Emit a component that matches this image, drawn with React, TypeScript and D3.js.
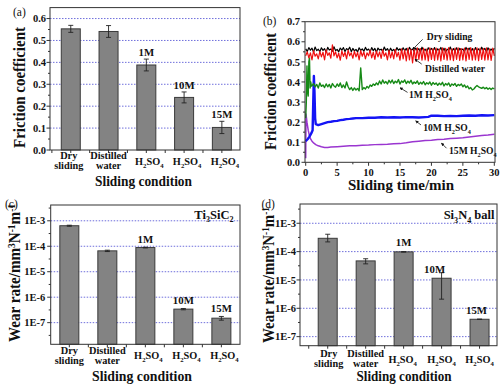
import React from "react";
import * as d3 from "d3";

const FONT = "'Liberation Serif','Times New Roman',Times,serif";

// ---------------- data ----------------
const conditionLines = [["Dry", "sliding"], ["Distilled", "water"], ["H2SO4"], ["H2SO4"], ["H2SO4"]];
const concentrationLabels = ["", "", "1M", "10M", "15M"];

const frictionMean = [0.553, 0.541, 0.388, 0.24, 0.103];
const frictionErr = [0.016, 0.027, 0.027, 0.025, 0.028];
const frictionTicks = [0, 0.1, 0.2, 0.3, 0.4, 0.5, 0.6];
const frictionMinor = [0.05, 0.15, 0.25, 0.35, 0.45, 0.55, 0.65];

const discWear = [6.4e-4, 6.6e-5, 8.9e-5, 3.4e-7, 1.5e-7];
const discWearLow = [6.1e-4, 6.2e-5, 8.6e-5, 3.2e-7, 1.25e-7];
const discWearHigh = [6.7e-4, 7.0e-5, 9.2e-5, 3.6e-7, 1.75e-7];
const ballWear = [2.95e-4, 4.7e-5, 9.8e-5, 1.15e-5, 4.1e-7];
const ballWearLow = [2.2e-4, 3.7e-5, 9.6e-5, 2.1e-6, 4.05e-7];
const ballWearHigh = [4.1e-4, 5.6e-5, 1.0e-4, 1.8e-5, 4.15e-7];
const wearTicks = [1e-7, 1e-6, 1e-5, 1e-4, 1e-3];
const wearTickLabels = ["1E-7", "1E-6", "1E-5", "1E-4", "1E-3"];
const wearMinor = [3.16e-8, 3.16e-7, 3.16e-6, 3.16e-5, 3.16e-4, 3.16e-3];

const timeTicks = [0, 5, 10, 15, 20, 25, 30];
const timeMinor = [2.5, 7.5, 12.5, 17.5, 22.5, 27.5];
const timeFrictionTicks = [0, 0.1, 0.2, 0.3, 0.4, 0.5, 0.6, 0.7];
const timeFrictionMinor = [0.05, 0.15, 0.25, 0.35, 0.45, 0.55, 0.65];

// friction vs time, sampled every 0.25 min from 0 to 30
const drySliding = [
  0.565, 0.552, 0.571, 0.558, 0.568, 0.549, 0.574, 0.556, 0.563, 0.551,
  0.57, 0.557, 0.566, 0.548, 0.572, 0.559, 0.564, 0.553, 0.575, 0.556,
  0.562, 0.55, 0.569, 0.558, 0.571, 0.552, 0.566, 0.56, 0.573, 0.551,
  0.567, 0.555, 0.562, 0.549, 0.57, 0.557, 0.565, 0.553, 0.572, 0.558,
  0.564, 0.55, 0.571, 0.556, 0.567, 0.548, 0.569, 0.559, 0.563, 0.552,
  0.574, 0.557, 0.566, 0.551, 0.568, 0.555, 0.562, 0.549, 0.571, 0.558,
  0.565, 0.553, 0.57, 0.556, 0.567, 0.55, 0.572, 0.559, 0.564, 0.552,
  0.569, 0.557, 0.566, 0.548, 0.573, 0.556, 0.563, 0.551, 0.57, 0.558,
  0.567, 0.554, 0.571, 0.55, 0.565, 0.557, 0.572, 0.553, 0.568, 0.549,
  0.563, 0.558, 0.574, 0.552, 0.566, 0.556, 0.57, 0.55, 0.567, 0.559,
  0.564, 0.551, 0.572, 0.557, 0.569, 0.553, 0.566, 0.549, 0.571, 0.556,
  0.565, 0.552, 0.573, 0.558, 0.567, 0.55, 0.57, 0.555, 0.564, 0.553,
  0.568,
];
const distilledWater = [
  0.53, 0.55, 0.52, 0.545, 0.51, 0.556, 0.528, 0.54, 0.515, 0.552,
  0.525, 0.548, 0.51, 0.56, 0.532, 0.545, 0.518, 0.585, 0.53, 0.55,
  0.52, 0.543, 0.508, 0.555, 0.527, 0.548, 0.515, 0.558, 0.53, 0.545,
  0.518, 0.553, 0.525, 0.547, 0.51, 0.556, 0.528, 0.55, 0.515, 0.545,
  0.53, 0.558, 0.52, 0.548, 0.512, 0.555, 0.525, 0.55, 0.517, 0.56,
  0.528, 0.545, 0.51, 0.557, 0.52, 0.55, 0.515, 0.562, 0.525, 0.548,
  0.508, 0.565, 0.515, 0.56, 0.505, 0.568, 0.51, 0.562, 0.495, 0.565,
  0.505, 0.57, 0.512, 0.566, 0.508, 0.568, 0.51, 0.563, 0.505, 0.57,
  0.512, 0.566, 0.507, 0.569, 0.51, 0.564, 0.505, 0.57, 0.512, 0.567,
  0.508, 0.571, 0.51, 0.565, 0.506, 0.568, 0.512, 0.57, 0.507, 0.566,
  0.51, 0.569, 0.505, 0.567, 0.512, 0.571, 0.508, 0.565, 0.51, 0.57,
  0.506, 0.568, 0.512, 0.566, 0.508, 0.57, 0.51, 0.565, 0.507, 0.568,
  0.53,
];
// 1M H2SO4: start-up transient, then every 0.25 min from 1 to 30
const acid1MStart: [number, number][] = [
  [0, 0.22], [0.1, 0.3], [0.2, 0.48], [0.3, 0.35], [0.4, 0.33], [0.5, 0.5],
  [0.6, 0.52], [0.7, 0.37], [0.8, 0.4], [0.9, 0.38],
];
const acid1M = [
  0.38, 0.392, 0.375, 0.388, 0.37, 0.395, 0.378, 0.385, 0.372, 0.39,
  0.376, 0.388, 0.37, 0.392, 0.38, 0.374, 0.39, 0.378, 0.395, 0.372,
  0.385, 0.37, 0.4, 0.376, 0.362, 0.372, 0.358, 0.37, 0.36, 0.368,
  0.356, 0.47, 0.362, 0.372, 0.365, 0.378, 0.37, 0.385, 0.378, 0.39,
  0.383, 0.395, 0.386, 0.405, 0.39, 0.41, 0.394, 0.402, 0.39, 0.408,
  0.395, 0.41, 0.392, 0.404, 0.396, 0.412, 0.39, 0.405, 0.398, 0.41,
  0.392, 0.404, 0.395, 0.408, 0.39, 0.4, 0.393, 0.405, 0.388, 0.398,
  0.39, 0.402, 0.386, 0.396, 0.39, 0.4, 0.384, 0.397, 0.388, 0.395,
  0.383, 0.394, 0.386, 0.398, 0.38, 0.392, 0.385, 0.395, 0.378, 0.39,
  0.384, 0.392, 0.378, 0.388, 0.382, 0.39, 0.376, 0.385, 0.372, 0.38,
  0.366, 0.372, 0.36, 0.365, 0.375, 0.382, 0.376, 0.372, 0.368, 0.374,
  0.366, 0.372, 0.364, 0.37, 0.362, 0.37, 0.365,
];
const acid10M: [number, number][] = [
  [0, 0.105], [0.3, 0.115], [0.6, 0.128], [0.9, 0.145], [1.1, 0.16], [1.2, 0.3],
  [1.3, 0.43], [1.4, 0.35], [1.5, 0.22], [1.6, 0.19], [2, 0.185], [2.5, 0.19],
  [3, 0.195], [3.5, 0.2], [4, 0.202], [4.5, 0.205], [5, 0.206], [5.5, 0.21],
  [6, 0.212], [6.5, 0.215], [7, 0.216], [7.5, 0.218], [8, 0.22], [9, 0.22],
  [10, 0.222], [11, 0.222], [12, 0.224], [13, 0.223], [14, 0.224], [15, 0.223],
  [16, 0.225], [17, 0.224], [18, 0.223], [19, 0.225], [19.5, 0.226], [20, 0.232],
  [21, 0.232], [22, 0.23], [23, 0.231], [24, 0.23], [25, 0.232], [26, 0.233],
  [27, 0.232], [28, 0.234], [29, 0.233], [30, 0.235],
];
const acid15M: [number, number][] = [
  [0, 0.02], [0.05, 0.24], [0.2, 0.2], [0.4, 0.16], [0.6, 0.13], [0.8, 0.115],
  [1, 0.105], [1.3, 0.095], [1.6, 0.088], [2, 0.082], [2.5, 0.077], [3, 0.074],
  [3.5, 0.074], [4, 0.076], [5, 0.078], [6, 0.08], [7, 0.082], [8, 0.083],
  [9, 0.085], [10, 0.086], [11, 0.088], [12, 0.089], [13, 0.09], [14, 0.092],
  [15, 0.093], [16, 0.097], [17, 0.102], [18, 0.105], [19, 0.108], [20, 0.11],
  [21, 0.113], [22, 0.115], [23, 0.118], [24, 0.12], [25, 0.122], [26, 0.126],
  [27, 0.13], [28, 0.133], [29, 0.136], [30, 0.14],
];
const curveNotes = [
  { label: "Dry sliding", at: [19.25, 0.609], from: [18.6, 0.612], to: [17.0, 0.562] },
  { label: "Distilled water", at: [18.98, 0.449], from: [18.45, 0.489], to: [17.4, 0.513] },
  { label: "1M H2SO4", at: [16.43, 0.32], from: [16.2, 0.348], to: [15.0, 0.371] },
  { label: "10M H2SO4", at: [18.7, 0.156], from: [18.34, 0.186], to: [17.5, 0.206] },
  { label: "15M H2SO4", at: [22.8, 0.039], from: [22.4, 0.07], to: [21.6, 0.095] },
];

// ---------------- helpers ----------------
const sampled = (vals: number[], t0: number, step: number): [number, number][] =>
  vals.map((v, i) => [t0 + i * step, v]);

function formulaSpans(s: string, fs: number) {
  const parts: { t: string; sub: boolean }[] = [];
  for (let i = 0; i < s.length; i++) {
    const ch = s[i];
    const isDigit = /[0-9]/.test(ch);
    const prev = i > 0 ? s[i - 1] : "";
    const prevSub = parts.length > 0 && parts[parts.length - 1].sub;
    const sub = isDigit && (/[A-Za-z]/.test(prev) || (prevSub && /[0-9]/.test(prev)));
    if (parts.length && parts[parts.length - 1].sub === sub) parts[parts.length - 1].t += ch;
    else parts.push({ t: ch, sub });
  }
  let cur = 0;
  return parts.map((p, k) => {
    const target = p.sub ? fs * 0.3 : 0;
    const dy = target - cur;
    cur = target;
    return (
      <tspan key={k} dy={dy} fontSize={p.sub ? fs * 0.65 : fs}>
        {p.t}
      </tspan>
    );
  });
}

const GRID = "#6f6fdc";
const AXIS = "#333";

function WearTitle() {
  return (
    <>
      <tspan>Wear rate/mm</tspan>
      <tspan dy={-5} fontSize={10}>3</tspan>
      <tspan dy={5}>N</tspan>
      <tspan dy={-5} fontSize={10}>-1</tspan>
      <tspan dy={5}>m</tspan>
      <tspan dy={-5} fontSize={10}>-1</tspan>
    </>
  );
}

type Box = { l: number; r: number; t: number; b: number };

function BarPanel(props: {
  box: Box;
  xDomain: [number, number];
  y: any;
  mean: number[];
  low: number[];
  high: number[];
  yTicks: number[];
  yTickLabels: string[];
  yMinor: number[];
  tickGap: number;
  catY: [number, number, number];
  catNudge: number[];
  annFromMean: boolean;
  annGap: number;
  annNudge: number[];
  letter: string;
  letterXY: [number, number];
  note?: string;
  noteXY?: [number, number];
  yTitle: React.ReactNode;
  yTitleXY: [number, number];
  yTitleLen: number;
  xTitleXY: [number, number];
  xTitleLen: number;
}) {
  const { box, y } = props;
  const x = d3.scaleLinear().domain(props.xDomain).range([box.l, box.r]);
  const bw = 19;
  const catTicks = d3.range(-0.5, 4.51, 0.5).filter((v) => v >= props.xDomain[0] && v <= props.xDomain[1]);
  return (
    <g fontFamily={FONT} fontWeight="bold" fill="#111">
      {props.yTicks.map((v, i) =>
        i === 0 && y(v) >= box.b - 0.5 ? null : (
          <line key={"g" + i} x1={box.l} x2={box.r} y1={y(v)} y2={y(v)} stroke={GRID} strokeWidth={1} strokeDasharray="1.5 1.5" />
        )
      )}
      {props.mean.map((m, i) => (
        <rect key={"b" + i} x={x(i) - bw / 2} y={y(m)} width={bw} height={box.b - y(m)} fill="#838383" stroke="#3a3a3a" strokeWidth={1} />
      ))}
      {props.mean.map((m, i) => {
        const yh = y(props.high[i]);
        const yl = y(props.low[i]);
        return (
          <g key={"e" + i} stroke="#222" strokeWidth={0.9}>
            <line x1={x(i)} x2={x(i)} y1={yh} y2={yl} />
            <line x1={x(i) - 2.5} x2={x(i) + 2.5} y1={yh} y2={yh} />
            <line x1={x(i) - 2.5} x2={x(i) + 2.5} y1={yl} y2={yl} />
          </g>
        );
      })}
      <rect x={box.l} y={box.t} width={box.r - box.l} height={box.b - box.t} fill="none" stroke={AXIS} strokeWidth={1} />
      {props.yTicks.map((v, i) => (
        <g key={"yt" + i}>
          <line x1={box.l - 3.5} x2={box.l} y1={y(v)} y2={y(v)} stroke={AXIS} />
          <text x={box.l - props.tickGap} y={y(v)} dy="0.35em" textAnchor="end" fontSize={10.5} fontWeight="bold">
            {props.yTickLabels[i]}
          </text>
        </g>
      ))}
      {props.yMinor.map((v, i) =>
        y(v) > box.t && y(v) < box.b ? (
          <line key={"ym" + i} x1={box.l - 2} x2={box.l} y1={y(v)} y2={y(v)} stroke={AXIS} />
        ) : null
      )}
      {catTicks.map((v, i) => (
        <line key={"xt" + i} x1={x(v)} x2={x(v)} y1={box.b} y2={box.b + 3} stroke={AXIS} />
      ))}
      {conditionLines.map((lines, i) => {
        const cx = x(i) + props.catNudge[i];
        if (lines.length === 2)
          return (
            <g key={"c" + i}>
              <text x={cx} y={props.catY[0]} textAnchor="middle" fontSize={10.3}>{lines[0]}</text>
              <text x={cx} y={props.catY[1]} textAnchor="middle" fontSize={10.3}>{lines[1]}</text>
            </g>
          );
        return (
          <text key={"c" + i} x={cx} y={props.catY[2]} textAnchor="middle" fontSize={10.3}>
            {formulaSpans(lines[0], 10.3)}
          </text>
        );
      })}
      {concentrationLabels.map((lab, i) => {
        if (!lab) return null;
        const base = props.annFromMean ? y(props.mean[i]) : y(props.high[i]);
        return (
          <text key={"a" + i} x={x(i) + props.annNudge[i]} y={base - props.annGap} textAnchor="middle" fontSize={10.8}>
            {lab}
          </text>
        );
      })}
      <text x={props.letterXY[0]} y={props.letterXY[1]} fontWeight="normal" fontSize={11.5}>
        {props.letter}
      </text>
      {props.note && props.noteXY ? (
        <text x={props.noteXY[0]} y={props.noteXY[1]} textAnchor="end" fontSize={12.5}>
          {formulaSpans(props.note, 12.5)}
        </text>
      ) : null}
      <text
        transform={`translate(${props.yTitleXY[0]},${props.yTitleXY[1]}) rotate(-90)`}
        textAnchor="middle"
        fontSize={16}
        textLength={props.yTitleLen}
        lengthAdjust="spacingAndGlyphs"
      >
        {props.yTitle}
      </text>
      <text x={props.xTitleXY[0]} y={props.xTitleXY[1]} textAnchor="middle" fontSize={14.5} textLength={props.xTitleLen} lengthAdjust="spacingAndGlyphs">
        Sliding condition
      </text>
    </g>
  );
}

function TimePanel() {
  const box: Box = { l: 305, r: 495, t: 21.7, b: 162.3 };
  const x = d3.scaleLinear().domain([0, 30]).range([305.7, 494.3]);
  const y = d3.scaleLinear().domain([0, 0.7]).range([162.3, 21.7]);
  const line = d3
    .line<[number, number]>()
    .x((d) => x(d[0]))
    .y((d) => y(d[1]));
  const series: { pts: [number, number][]; color: string; w: number }[] = [
    { pts: acid15M, color: "#9a35d0", w: 1.5 },
    { pts: acid10M, color: "#1414f5", w: 2.4 },
    { pts: [...acid1MStart, ...sampled(acid1M, 1, 0.25)], color: "#168a16", w: 1.4 },
    { pts: sampled(drySliding, 0, 0.25), color: "#000", w: 1.2 },
    { pts: sampled(distilledWater, 0, 0.25), color: "#f01010", w: 1.2 },
  ];
  return (
    <g fontFamily={FONT} fontWeight="bold" fill="#111">
      <defs>
        <clipPath id="clipB">
          <rect x={box.l} y={box.t} width={box.r - box.l} height={box.b - box.t} />
        </clipPath>
        <marker id="arr" viewBox="0 0 6 6" refX="5" refY="3" markerWidth="4" markerHeight="4" orient="auto">
          <path d="M0,0 L6,3 L0,6 z" fill="#111" />
        </marker>
      </defs>
      <g clipPath="url(#clipB)">
        {series.map((s, i) => (
          <path key={i} d={line(s.pts) || ""} fill="none" stroke={s.color} strokeWidth={s.w} strokeLinejoin="round" />
        ))}
      </g>
      <rect x={box.l} y={box.t} width={box.r - box.l} height={box.b - box.t} fill="none" stroke={AXIS} strokeWidth={1} />
      {timeTicks.map((v, i) => (
        <g key={"xt" + i}>
          <line x1={x(v)} x2={x(v)} y1={box.b} y2={box.b + 3.5} stroke={AXIS} />
          <text x={x(v)} y={175.5} textAnchor="middle" fontSize={10.5}>{v}</text>
        </g>
      ))}
      {timeMinor.map((v, i) => (
        <line key={"xm" + i} x1={x(v)} x2={x(v)} y1={box.b} y2={box.b + 2} stroke={AXIS} />
      ))}
      {timeFrictionTicks.map((v, i) => (
        <g key={"yt" + i}>
          <line x1={box.l - 3.5} x2={box.l} y1={y(v)} y2={y(v)} stroke={AXIS} />
          <text x={box.l - 5} y={y(v)} dy="0.35em" textAnchor="end" fontSize={10.5}>{d3.format(".1f")(v)}</text>
        </g>
      ))}
      {timeFrictionMinor.map((v, i) => (
        <line key={"ym" + i} x1={box.l - 2} x2={box.l} y1={y(v)} y2={y(v)} stroke={AXIS} />
      ))}
      {curveNotes.map((n, i) => (
        <g key={"n" + i}>
          <line x1={x(n.from[0])} y1={y(n.from[1])} x2={x(n.to[0])} y2={y(n.to[1])} stroke="#111" strokeWidth={0.8} markerEnd="url(#arr)" />
          <text x={x(n.at[0])} y={y(n.at[1])} fontSize={9.6}>{formulaSpans(n.label, 9.6)}</text>
        </g>
      ))}
      <text x={263} y={25} fontWeight="normal" fontSize={11.5}>(b)</text>
      <text transform="translate(275.5,91.5) rotate(-90)" textAnchor="middle" fontSize={16} textLength={117} lengthAdjust="spacingAndGlyphs">
        Friction coefficient
      </text>
      <text x={401} y={190} textAnchor="middle" fontSize={14.5} textLength={106} lengthAdjust="spacingAndGlyphs">
        Sliding time/min
      </text>
    </g>
  );
}

export default function App() {
  const yA = d3.scaleLinear().domain([0, 0.65]).range([150, 7.6]);
  const yC = d3.scaleLog().domain([Math.pow(10, -7.85), Math.pow(10, -2.38)]).range([344.3, 205]);
  const yD = d3.scaleLog().domain([Math.pow(10, -7.32), Math.pow(10, -2.32)]).range([345.7, 204]);
  const fmt = d3.format(".1f");
  return (
    <svg width={500} height={385} viewBox="0 0 500 385" style={{ display: "block", position: "absolute", left: 0, top: 0, background: "#fff" }}>
      <rect width={500} height={385} fill="#fff" />
      <BarPanel
        box={{ l: 50, r: 240, t: 7.6, b: 150 }}
        xDomain={[-0.55, 4.48]}
        y={yA}
        mean={frictionMean}
        low={frictionMean.map((m, i) => m - frictionErr[i])}
        high={frictionMean.map((m, i) => m + frictionErr[i])}
        yTicks={frictionTicks}
        yTickLabels={frictionTicks.map(fmt)}
        yMinor={frictionMinor}
        tickGap={4}
        catY={[159, 169, 165]}
        catNudge={[-2, 0, 3, 3, 3]}
        annFromMean={false}
        annGap={3}
        annNudge={[0, 0, 0, 0, 0]}
        letter="(a)"
        letterXY={[13, 15.5]}
        yTitle="Friction coefficient"
        yTitleXY={[25, 87.5]}
        yTitleLen={121}
        xTitleXY={[143.5, 186]}
        xTitleLen={97}
      />
      <TimePanel />
      <BarPanel
        box={{ l: 50.7, r: 240, t: 205, b: 344.3 }}
        xDomain={[-0.49, 4.49]}
        y={yC}
        mean={discWear}
        low={discWearLow}
        high={discWearHigh}
        yTicks={wearTicks}
        yTickLabels={wearTickLabels}
        yMinor={wearMinor}
        tickGap={5.5}
        catY={[353.5, 363.5, 358.5]}
        catNudge={[0, 0, 3, 3, 3]}
        annFromMean={false}
        annGap={4.5}
        annNudge={[0, 0, 0, 0, 0]}
        letter="(c)"
        letterXY={[5, 207.5]}
        note="Ti3SiC2"
        noteXY={[233.5, 218.5]}
        yTitle={<WearTitle />}
        yTitleXY={[19.5, 273]}
        yTitleLen={138}
        xTitleXY={[142, 380.5]}
        xTitleLen={100}
      />
      <BarPanel
        box={{ l: 300, r: 497, t: 204, b: 345.7 }}
        xDomain={[-0.73, 4.46]}
        y={yD}
        mean={ballWear}
        low={ballWearLow}
        high={ballWearHigh}
        yTicks={wearTicks}
        yTickLabels={wearTickLabels}
        yMinor={wearMinor}
        tickGap={4}
        catY={[357.3, 367.2, 363.3]}
        catNudge={[1, 0, -1, 0, 0]}
        annFromMean={true}
        annGap={5.5}
        annNudge={[0, 0, 0, -7, -3]}
        letter="(d)"
        letterXY={[261.5, 207.5]}
        note="Si3N4 ball"
        noteXY={[494.5, 219]}
        yTitle={<WearTitle />}
        yTitleXY={[274, 275]}
        yTitleLen={136}
        xTitleXY={[404, 381]}
        xTitleLen={95}
      />
    </svg>
  );
}
